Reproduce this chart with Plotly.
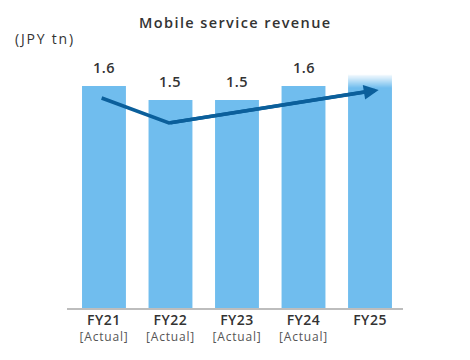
import plotly.graph_objects as go

# ---- data ----
categories = ["FY21", "FY22", "FY23", "FY24", "FY25"]
sublabels = ["[Actual]", "[Actual]", "[Actual]", "[Actual]", ""]
values = [1.6, 1.5, 1.5, 1.6, 1.586]
value_labels = ["1.6", "1.5", "1.5", "1.6", ""]
fade_height = 0.10          # faded top of the FY25 (forecast) bar
trend_x = [-0.035, 0.977, 4.13]
trend_y = [1.514, 1.334, 1.572]

BAR = "#70bdee"
ARROW = "#0b5f9b"
TXT = "#333333"
FONT = "Open Sans"

x_idx = list(range(len(categories)))
fig = go.Figure()

fig.add_trace(go.Bar(x=x_idx, y=values, marker=dict(color=BAR, line=dict(width=0)),
                     width=0.66, hoverinfo="skip"))

n = 14
seg = fade_height / n
for i in range(n):
    a = 1 - (i + 0.5) / n
    fig.add_trace(go.Bar(x=[x_idx[-1]], y=[seg * 1.02], base=[values[-1] + i * seg],
                         marker=dict(color=f"rgba(112,189,238,{a:.3f})", line=dict(width=0)),
                         width=0.66, hoverinfo="skip"))

fig.add_trace(go.Scatter(x=trend_x[:-1] + [trend_x[-1] - 0.1], y=trend_y[:-1] + [trend_y[-1] - 0.005],
                         mode="lines", line=dict(color=ARROW, width=3.5), hoverinfo="skip"))
fig.add_annotation(x=trend_x[-1], y=trend_y[-1], ax=trend_x[-2], ay=trend_y[-2],
                   xref="x", yref="y", axref="x", ayref="y", text="",
                   showarrow=True, arrowhead=2, arrowsize=0.85, arrowwidth=3.5, arrowcolor=ARROW)

for xi, v, t in zip(x_idx, values, value_labels):
    if t:
        fig.add_annotation(x=xi, y=v, text=f"<span style='letter-spacing:0.5px'>{t}</span>",
                           showarrow=False, yanchor="bottom",
                           yshift=7, font=dict(family=FONT, size=14.5, color=TXT, weight=600))

ticktext = []
for c, s in zip(categories, sublabels):
    t = f"<span style='font-size:14px;font-weight:600;letter-spacing:0.5px;color:#333333'>{c}</span>"
    if s:
        t += f"<br><span style='font-size:12px;font-weight:400;letter-spacing:0.8px;color:#555555'>{s}</span>"
    ticktext.append(t)

fig.add_annotation(x=0.5, y=1, xref="paper", yref="paper", xanchor="center", yanchor="middle",
                   text="<span style='letter-spacing:1.4px'>Mobile service revenue</span>", showarrow=False,
                   font=dict(family=FONT, size=14.5, color=TXT, weight=600), yshift=38)
fig.add_annotation(x=0, y=1, xref="paper", yref="paper", xanchor="left", yanchor="middle",
                   xshift=-54, yshift=22, text="<span style='letter-spacing:1.8px'>(JPY tn)</span>",
                   showarrow=False, font=dict(family=FONT, size=14, color=TXT))

# page body has an 8px margin, so the figure is offset by (8, 8) in the window
fig.update_layout(
    width=470, height=360,
    margin=dict(l=59, r=75, t=52, b=60, autoexpand=False),
    paper_bgcolor="white", plot_bgcolor="white",
    barmode="overlay", showlegend=False,
    font=dict(family=FONT, color=TXT),
    xaxis=dict(range=[-0.556, 4.496], tickmode="array", tickvals=x_idx, ticktext=ticktext,
               tickfont=dict(family=FONT, size=12.5, color=TXT), showgrid=False, zeroline=False,
               showline=True, linecolor="#bdbdbd", linewidth=2, ticks="", fixedrange=True,
               automargin=False),
    yaxis=dict(range=[0, 1.788], visible=False, showgrid=False, zeroline=False, fixedrange=True,
               automargin=False),
)

fig.write_html("out.html", config={"displayModeBar": False})
